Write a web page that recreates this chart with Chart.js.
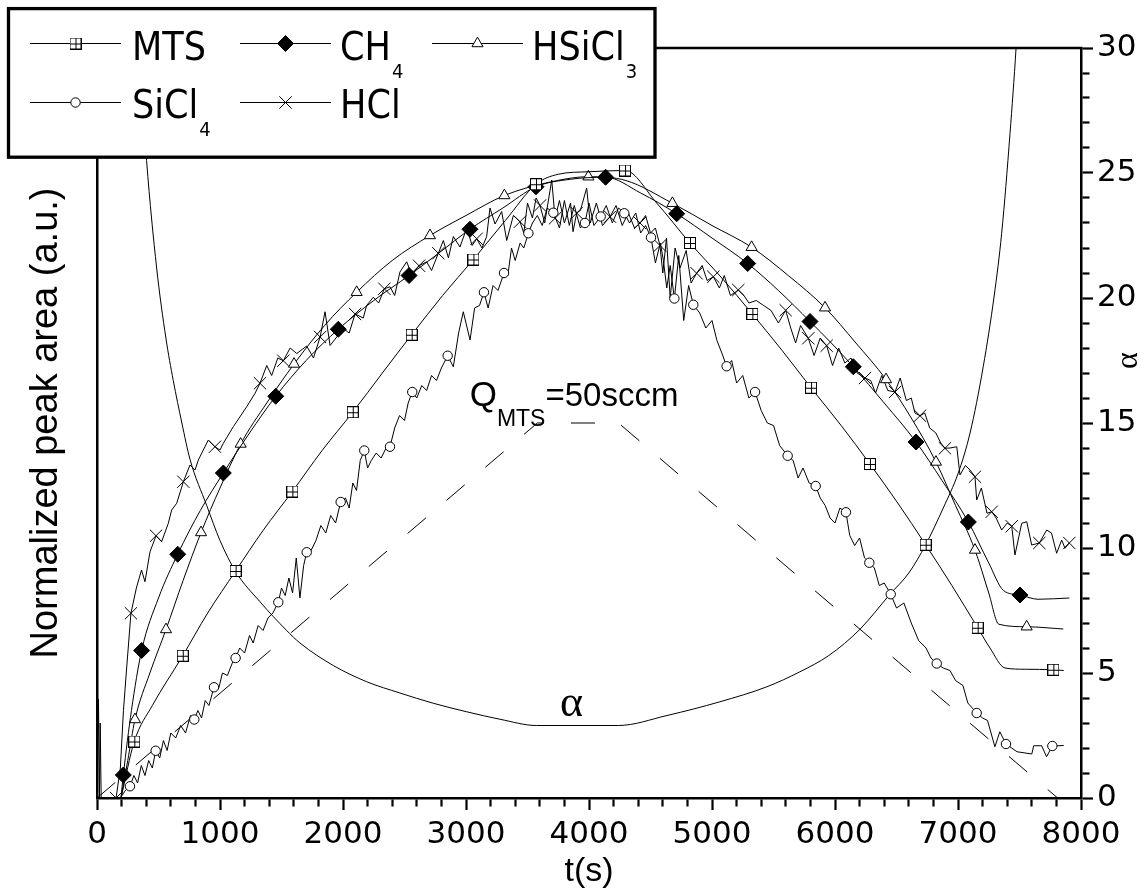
<!DOCTYPE html>
<html>
<head>
<meta charset="utf-8">
<title>Normalized peak area vs time</title>
<script src="https://cdn.jsdelivr.net/npm/chart.js@4.4.1/dist/chart.umd.min.js"></script>
<style>
  html, body { margin: 0; padding: 0; background: #fff; }
  #wrap { width: 1147px; height: 895px; }
</style>
</head>
<body>
<div id="wrap"><canvas id="c" width="1147" height="895"></canvas></div>
<script>
// ---------- axes: labelled ticks and minor tick steps ----------
const timeTicks = [0, 1000, 2000, 3000, 4000, 5000, 6000, 7000, 8000];
const timeMinorStep = 200;
const alphaTicks = [0, 5, 10, 15, 20, 25, 30];
const alphaMinorStep = 1;

// ---------- data: [time (s), value] ----------
const seriesLabels = ['MTS', 'CH_4', 'HSiCl_3', 'SiCl_4', 'HCl'];

const mtsPts = [[195,0],[303,2.26],[450,3.7],[697,5.69],[900,7.4],[1127,9.08],[1350,10.7],[1588,12.26],[1830,13.9],[2079,15.43],[2320,17.0],[2558,18.53],[2810,20.1],[3060,21.54],[3320,23.1],[3569,24.55],[3750,24.95],[4000,25.05],[4293,25.1],[4550,23.8],[4821,22.2],[5080,20.8],[5328,19.36],[5570,17.9],[5805,16.41],[6050,14.9],[6284,13.36],[6510,11.8],[6737,10.13],[6950,8.5],[7160,6.81],[7260,6.0],[7382,5.2],[7550,5.15],[7775,5.13],[7860,5.1]];
const mtsMarks = [303,697,1127,1588,2079,2558,3060,3569,4293,4821,5328,5805,6284,6737,7160,7775];

const ch4Pts = [[195,0],[214,0.92],[280,3.5],[363,5.9],[500,8.0],[656,9.75],[840,11.5],[1027,13.0],[1240,14.6],[1453,16.07],[1700,17.5],[1962,18.75],[2250,19.9],[2537,20.9],[2780,21.8],[3032,22.75],[3300,23.6],[3569,24.45],[3850,24.75],[4135,24.83],[4420,24.2],[4713,23.37],[5000,22.4],[5290,21.38],[5540,20.3],[5797,19.06],[5970,18.2],[6149,17.25],[6400,15.8],[6659,14.24],[6870,12.7],[7084,11.04],[7250,9.4],[7370,8.3],[7504,8.12],[7650,7.95],[7905,8.0]];
const ch4Marks = [214,363,656,1027,1453,1962,2537,3032,3569,4135,4713,5290,5797,6149,6659,7084,7504];

const hsicl3Pts = [[195,0],[250,1.5],[309,3.14],[430,5.0],[561,6.74],[700,8.7],[846,10.62],[1000,12.4],[1168,14.16],[1380,15.8],[1602,17.36],[1850,18.9],[2111,20.23],[2400,21.5],[2707,22.5],[3000,23.3],[3312,24.1],[3650,24.6],[3995,24.85],[4300,24.7],[4678,23.79],[5000,22.9],[5322,22.03],[5620,20.9],[5919,19.61],[6170,18.2],[6415,16.74],[6620,15.2],[6821,13.44],[6980,11.7],[7138,9.92],[7250,8.2],[7332,6.95],[7558,6.85],[7856,6.76]];
const hsicl3Marks = [309,561,846,1168,1602,2111,2707,3312,3995,4678,5322,5919,6415,6821,7138,7558];

const sicl4Pts = [[190,0],[230,0.3],[268,0.47],[300,0.9],[330,0.6],[360,1.3],[390,0.9],[420,1.5],[450,1.2],[477,1.89],[510,1.6],[540,2.3],[570,1.9],[600,2.6],[640,2.4],[680,2.9],[720,2.6],[760,3.3],[791,3.14],[820,3.5],[850,3.2],[880,3.9],[910,3.7],[951,4.43],[990,4.4],[1020,5.0],[1060,4.9],[1100,5.4],[1127,5.6],[1160,6.0],[1200,5.8],[1240,6.5],[1270,6.2],[1310,6.9],[1350,6.7],[1390,7.2],[1430,7.4],[1474,7.83],[1500,8.4],[1530,8.1],[1560,8.8],[1590,8.2],[1620,9.6],[1650,8.0],[1680,9.3],[1705,9.83],[1740,9.9],[1780,10.3],[1820,10.9],[1860,10.6],[1900,11.3],[1940,11.0],[1981,11.84],[2020,12.0],[2050,11.6],[2080,12.6],[2110,12.3],[2140,13.5],[2173,13.9],[2200,13.2],[2230,13.5],[2270,13.8],[2310,13.6],[2350,14.0],[2382,14.05],[2420,14.8],[2460,15.3],[2500,15.1],[2530,15.8],[2563,16.24],[2600,16.0],[2640,16.5],[2680,16.3],[2720,16.9],[2760,16.7],[2800,17.2],[2851,17.69],[2897,17.25],[2940,18.6],[2978,19.45],[3033,18.32],[3070,19.6],[3110,19.7],[3146,20.23],[3180,19.6],[3220,20.5],[3260,20.3],[3309,21.0],[3340,20.9],[3370,22.0],[3400,21.5],[3440,22.2],[3470,22.0],[3507,22.59],[3540,23.0],[3580,23.3],[3620,22.9],[3660,23.6],[3710,23.41],[3760,22.8],[3800,23.9],[3840,22.9],[3880,23.7],[3930,22.8],[3967,23.0],[4000,23.8],[4040,22.9],[4095,23.26],[4140,23.7],[4190,23.0],[4240,23.6],[4287,23.39],[4330,23.0],[4380,23.4],[4420,22.6],[4460,22.9],[4504,22.42],[4540,21.4],[4580,22.2],[4605,21.5],[4632,20.4],[4660,21.3],[4694,19.98],[4730,21.7],[4770,19.1],[4810,20.5],[4848,19.73],[4900,19.4],[4950,18.8],[5000,19.1],[5040,18.3],[5080,17.8],[5119,17.27],[5160,17.5],[5200,16.6],[5250,16.9],[5300,16.0],[5350,16.24],[5400,15.5],[5450,15.0],[5500,14.9],[5550,14.1],[5615,13.69],[5660,13.5],[5700,12.8],[5740,13.2],[5790,12.6],[5843,12.48],[5880,12.0],[5920,11.7],[5960,11.2],[6000,11.0],[6040,11.6],[6089,11.43],[6120,10.5],[6160,10.1],[6200,10.4],[6240,9.6],[6279,9.41],[6320,9.2],[6360,8.5],[6400,8.6],[6453,8.15],[6500,7.6],[6560,7.8],[6620,7.0],[6680,6.3],[6740,6.0],[6780,5.6],[6827,5.38],[6880,5.2],[6935,5.1],[6980,4.7],[7040,4.5],[7080,3.8],[7152,3.4],[7200,3.2],[7240,3.1],[7300,2.05],[7340,2.65],[7390,2.16],[7480,1.85],[7600,1.76],[7615,2.09],[7680,2.09],[7720,1.65],[7767,2.08],[7860,2.1]];
const sicl4Marks = [268,477,791,951,1127,1474,1705,1981,2173,2382,2563,2851,3146,3309,3507,3710,3967,4095,4287,4504,4694,4848,5119,5350,5615,5843,6089,6279,6453,6827,7152,7390,7767];

const hclPts = [[0,0],[12,3.95],[20,0],[26,3.0],[34,0],[155,0],[190,1.2],[215,3.5],[241,5.2],[276,7.39],[320,8.4],[362,9.12],[390,8.65],[431,9.85],[480,10.49],[525,10.25],[580,10.99],[607,11.52],[648,11.79],[702,12.65],[756,13.32],[797,13.12],[824,13.52],[905,14.32],[959,14.05],[1000,13.92],[1027,14.19],[1108,14.85],[1217,15.65],[1285,16.19],[1325,16.59],[1380,17.3],[1420,16.9],[1470,17.6],[1515,17.49],[1570,18.0],[1624,17.78],[1705,18.08],[1760,17.6],[1814,18.44],[1854,19.45],[1895,18.1],[1949,18.44],[2003,18.78],[2050,18.6],[2098,19.36],[2165,19.2],[2192,19.7],[2246,20.03],[2290,19.8],[2336,20.37],[2382,20.45],[2420,20.1],[2463,21.04],[2518,21.45],[2560,20.9],[2618,21.29],[2680,21.45],[2720,21.1],[2775,21.79],[2816,22.3],[2857,21.6],[2897,22.46],[2951,22.04],[3006,22.8],[3050,22.1],[3087,22.37],[3130,22.0],[3168,22.46],[3195,23.6],[3236,22.96],[3290,23.46],[3331,22.3],[3385,23.3],[3439,23.05],[3470,22.6],[3500,23.8],[3540,23.2],[3570,24.0],[3602,23.7],[3640,23.0],[3697,24.72],[3724,23.19],[3760,23.9],[3800,23.0],[3850,23.8],[3870,22.65],[3900,23.4],[3930,23.5],[3981,24.4],[4010,23.0],[4060,23.8],[4110,22.9],[4171,23.25],[4220,23.7],[4270,22.9],[4320,23.4],[4370,22.8],[4415,23.0],[4460,23.3],[4500,22.6],[4540,22.8],[4577,22.1],[4600,21.0],[4630,22.4],[4660,20.0],[4700,22.0],[4740,21.2],[4790,21.9],[4830,20.6],[4875,20.99],[4920,21.3],[4960,20.7],[5011,20.85],[5060,20.4],[5100,20.9],[5150,20.1],[5214,20.32],[5260,20.1],[5300,19.8],[5360,19.9],[5420,19.7],[5480,19.5],[5540,19.0],[5599,19.51],[5640,18.8],[5680,18.2],[5720,18.9],[5783,18.39],[5830,17.7],[5880,18.4],[5932,18.09],[5980,17.3],[6030,18.0],[6080,17.4],[6130,17.6],[6180,17.0],[6244,16.8],[6290,16.7],[6330,16.2],[6380,16.9],[6430,16.3],[6488,16.24],[6530,16.8],[6580,15.9],[6620,16.0],[6650,15.4],[6691,15.29],[6730,15.4],[6770,14.8],[6820,14.6],[6860,14.2],[6894,13.99],[6935,14.0],[6990,14.05],[7016,12.92],[7060,13.3],[7098,13.12],[7138,12.85],[7152,11.92],[7190,12.4],[7236,11.39],[7274,11.45],[7310,11.2],[7355,10.72],[7400,11.0],[7437,10.87],[7463,9.72],[7518,10.99],[7559,11.05],[7599,10.12],[7661,10.2],[7721,10.72],[7760,10.6],[7802,9.79],[7843,10.32],[7870,9.99],[7905,10.2]];
const hclMarks = [155,276,480,702,959,1325,1515,1814,2098,2336,2618,2775,3087,3439,3602,3724,3900,4171,4415,4577,4875,5011,5214,5599,5783,5932,6244,6488,6691,6894,7138,7274,7437,7661,7905];

// alpha (right axis)
const alphaPts = [[300,34],[340,30.2],[403,25.5],[485,21.2],[560,18.4],[620,16.7],[690,15.0],[756,13.55],[892,11.7],[1000,10.3],[1128,9.05],[1325,7.85],[1542,6.7],[1650,6.2],[1921,5.3],[2193,4.65],[2463,4.2],[2734,3.79],[3005,3.45],[3276,3.15],[3574,2.9],[4238,2.9],[4634,3.3],[5065,3.85],[5447,4.45],[5715,5.05],[5950,5.7],[6203,6.75],[6447,8.15],[6600,9.0],[6737,10.13],[6880,11.6],[7002,13.0],[7098,14.6],[7205,17.25],[7295,20.12],[7355,22.59],[7423,26.59],[7472,30],[7500,32.5]];

// MTS flow programme (dashed)
const flowPts = [[0,0],[3580,15],[4240,15],[7810,0]];

// ---------- marker for MTS: square with a cross inside ----------
function gridSquare(size) {
  const cv = document.createElement('canvas');
  cv.width = size; cv.height = size;
  const g = cv.getContext('2d');
  g.fillStyle = '#fff';
  g.fillRect(0, 0, size, size);
  g.strokeStyle = '#000';
  g.lineWidth = 1;
  const m = Math.floor(size / 2) + 0.5;
  g.strokeRect(0.5, 0.5, size - 1, size - 1);
  g.beginPath();
  g.moveTo(m, 0.5); g.lineTo(m, size - 0.5);
  g.moveTo(0.5, m); g.lineTo(size - 0.5, m);
  g.stroke();
  return cv;
}

const markerStyles = [
  { shape: gridSquare(12), r: 6, fill: '#fff', smooth: true },
  { shape: 'rectRot', r: 8, fill: '#000', smooth: true },
  { shape: 'triangle', r: 6.4, fill: '#fff', smooth: true },
  { shape: 'circle', r: 4.7, fill: '#fff', smooth: false },
  { shape: 'crossRot', r: 8.7, fill: '#fff', smooth: false }
];

function series(label, pts, marks, st) {
  const markSet = new Set(marks);
  return {
    label: label,
    yAxisID: 'y',
    data: pts.map(p => ({ x: p[0], y: p[1] })),
    borderColor: '#000',
    borderWidth: 1,
    backgroundColor: st.fill,
    pointStyle: st.shape,
    pointBackgroundColor: st.fill,
    pointBorderColor: '#000',
    pointBorderWidth: 1,
    pointRadius: c => markSet.has(pts[c.dataIndex][0]) ? st.r : 0,
    cubicInterpolationMode: st.smooth ? 'monotone' : 'default',
    tension: 0,
    legendRadius: st.r
  };
}

const datasets = [
  series(seriesLabels[0], mtsPts, mtsMarks, markerStyles[0]),
  series(seriesLabels[1], ch4Pts, ch4Marks, markerStyles[1]),
  series(seriesLabels[2], hsicl3Pts, hsicl3Marks, markerStyles[2]),
  series(seriesLabels[3], sicl4Pts, sicl4Marks, markerStyles[3]),
  series(seriesLabels[4], hclPts, hclMarks, markerStyles[4]),
  {
    label: 'alpha', yAxisID: 'y',
    data: alphaPts.map(p => ({ x: p[0], y: p[1] })),
    borderColor: '#000', borderWidth: 1, pointRadius: 0,
    cubicInterpolationMode: 'monotone'
  },
  {
    label: 'Q_MTS', yAxisID: 'y',
    data: flowPts.map(p => ({ x: p[0], y: p[1] })),
    borderColor: '#000', borderWidth: 1, pointRadius: 0,
    borderDash: [24, 27], tension: 0
  }
];

// ---------- helpers for axes ----------
const BLACK = '#000';
const sans = "'Liberation Sans', Arial, sans-serif";
const legendFont = "'DejaVu Sans Condensed', 'Liberation Sans', Arial, sans-serif";
const tickFont = { family: "'DejaVu Sans', sans-serif", size: 31 };

function stepTicks(min, max, step) {
  const out = [];
  for (let v = min; v <= max + 1e-9; v += step) out.push({ value: Math.round(v * 1000) / 1000 });
  return out;
}
// minor ticks are drawn as a short dash of the full-length tick
const majorDash = (labelled) => (c) => labelled.includes(c.tick && c.tick.value) ? [] : [7, 60];

// closing top line of the frame
const frameTop = {
  id: 'frameTop',
  afterDraw(chart) {
    const ctx = chart.ctx, a = chart.chartArea;
    ctx.save();
    ctx.strokeStyle = BLACK;
    ctx.lineWidth = 2.5;
    ctx.beginPath();
    ctx.moveTo(a.left - 1, a.top);
    ctx.lineTo(a.right + 1.2, a.top);
    ctx.stroke();
    ctx.restore();
  }
};

function drawSubText(ctx, x, y, text, size, subSize, drop, family) {
  const parts = text.split('_');
  ctx.font = size + 'px ' + family;
  ctx.fillText(parts[0], x, y);
  let w = ctx.measureText(parts[0]).width;
  if (parts.length > 1) {
    ctx.font = subSize + 'px ' + family;
    ctx.fillText(parts[1], x + w + 1, y + drop);
    w += ctx.measureText(parts[1]).width;
  }
  return w;
}

// in-plot annotations and the right axis title
const notes = {
  id: 'notes',
  afterDatasetsDraw(chart) {
    const { ctx } = chart;
    const xs = chart.scales.x, ys = chart.scales.y;
    ctx.save();
    ctx.fillStyle = BLACK;
    ctx.textBaseline = 'alphabetic';
    ctx.textAlign = 'left';
    // Q_MTS=50sccm
    let x = xs.getPixelForValue(3030);
    const y = ys.getPixelForValue(15.7);
    ctx.font = '35px ' + sans;
    ctx.fillText('Q', x, y);
    x += ctx.measureText('Q').width;
    ctx.font = '23px ' + sans;
    ctx.fillText('MTS', x, y + 20);
    x += ctx.measureText('MTS').width;
    ctx.font = '33px ' + sans;
    ctx.fillText('=50sccm', x, y);
    // alpha label near the curve minimum
    ctx.textAlign = 'center';
    ctx.font = "44px 'Liberation Serif', serif";
    ctx.fillText('\u03b1', xs.getPixelForValue(3858), ys.getPixelForValue(3.3));
    // right axis title
    ctx.save();
    ctx.translate(1129, ys.getPixelForValue(17.5));
    ctx.rotate(-Math.PI / 2);
    ctx.textBaseline = 'middle';
    ctx.font = "32px 'Liberation Serif', serif";
    ctx.fillText('\u03b1', 0, 0);
    ctx.restore();
    ctx.restore();
  }
};

// boxed legend with subscripted species names
const speciesLegend = {
  id: 'speciesLegend',
  afterDraw(chart) {
    const { ctx } = chart;
    ctx.save();
    ctx.fillStyle = '#fff';
    ctx.fillRect(7, 7, 649, 151);
    ctx.strokeStyle = BLACK;
    ctx.lineWidth = 3.3;
    ctx.strokeRect(8.5, 8.6, 646.5, 148.6);
    const cols = [{ l: 30, r: 121, tx: 132 }, { l: 240, r: 331, tx: 340 }, { l: 432, r: 523, tx: 532 }];
    const rows = [{ ly: 43.5, ty: 60 }, { ly: 102.5, ty: 118 }];
    const helpers = Chart.helpers;
    for (let i = 0; i < 5; i++) {
      const ds = chart.data.datasets[i];
      const c = cols[i % 3], r = rows[Math.floor(i / 3)];
      ctx.strokeStyle = BLACK;
      ctx.lineWidth = 1;
      ctx.beginPath();
      ctx.moveTo(c.l, r.ly);
      ctx.lineTo(c.r, r.ly);
      ctx.stroke();
      ctx.fillStyle = ds.pointBackgroundColor;
      ctx.strokeStyle = BLACK;
      helpers.drawPoint(ctx, { pointStyle: ds.pointStyle, rotation: 0, radius: ds.legendRadius, borderWidth: 1 }, (c.l + c.r) / 2, r.ly);
      ctx.fillStyle = BLACK;
      ctx.textAlign = 'left';
      ctx.textBaseline = 'alphabetic';
      drawSubText(ctx, c.tx, r.ty, ds.label, 39, 20, 18, legendFont);
    }
    ctx.restore();
  }
};

// ---------- chart ----------
new Chart(document.getElementById('c'), {
  type: 'line',
  data: { datasets: datasets },
  plugins: [notes, frameTop, speciesLegend],
  options: {
    responsive: false,
    animation: false,
    events: [],
    layout: { padding: { top: 48, left: 0, right: 0, bottom: 0 } },
    plugins: { legend: { display: false }, tooltip: { enabled: false } },
    scales: {
      x: {
        type: 'linear', position: 'bottom', min: 0, max: 8000,
        afterBuildTicks: s => { s.ticks = stepTicks(0, 8000, timeMinorStep); },
        ticks: { autoSkip: false, maxRotation: 0, padding: 6, color: BLACK,
                 callback: v => timeTicks.includes(v) ? String(v) : '',
                 font: tickFont },
        grid: { display: true, drawOnChartArea: false, drawTicks: true, tickLength: 12,
                tickWidth: 2.2, tickColor: BLACK, tickBorderDash: majorDash(timeTicks) },
        border: { display: true, color: BLACK, width: 2.5 },
        title: { display: true, text: 't(s)', color: BLACK,
                 font: { family: sans, size: 34 }, padding: { top: 0, bottom: 3 } },
        afterFit: s => { s.height = 97; }
      },
      y: {
        type: 'linear', position: 'right', min: 0, max: 30,
        afterBuildTicks: s => { s.ticks = stepTicks(0, 30, alphaMinorStep); },
        ticks: { autoSkip: false, padding: 4, color: BLACK,
                 callback: v => alphaTicks.includes(v) ? String(v) : '',
                 font: tickFont },
        grid: { display: true, drawOnChartArea: false, drawTicks: true, tickLength: 12,
                tickWidth: 2.2, tickColor: BLACK, tickBorderDash: majorDash(alphaTicks) },
        border: { display: true, color: BLACK, width: 2.5 },
        afterFit: s => { s.width = 66; }
      },
      yL: {
        type: 'linear', position: 'left', min: 0, max: 30,
        ticks: { display: false },
        grid: { display: false, drawTicks: false },
        border: { display: true, color: BLACK, width: 2.5 },
        title: { display: true, text: 'Normalized peak area (a.u.)', color: BLACK,
                 font: { family: sans, size: 38 }, padding: { top: 24, bottom: 0 } },
        afterFit: s => { s.width = 97; }
      }
    }
  }
});
</script>
</body>
</html>
